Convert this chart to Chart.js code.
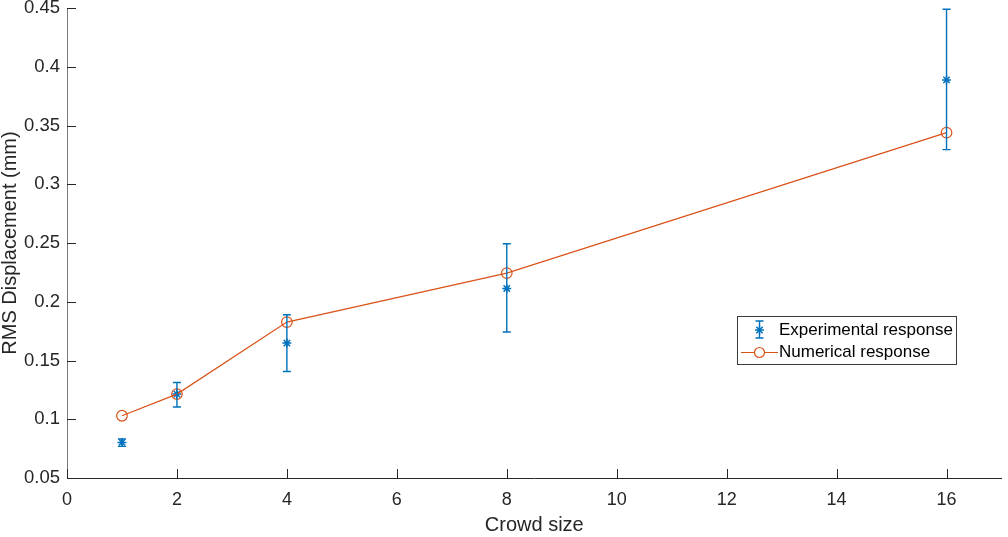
<!DOCTYPE html>
<html>
<head>
<meta charset="utf-8">
<script src="https://cdn.jsdelivr.net/npm/chart.js@4/dist/chart.umd.min.js"></script>
<style>
  html, body { margin: 0; padding: 0; background: #fff; }
</style>
</head>
<body>
<canvas id="grafico" width="1008" height="537"></canvas>
<script>
const crowd_size = [1, 2, 4, 8, 16];

// experimental response (mean and error bar limits)
const exp_media = [0.0803, 0.1214, 0.1648, 0.2113, 0.3888];
const exp_min = [0.0769, 0.1104, 0.1407, 0.1742, 0.3295];
const exp_max = [0.0832, 0.1313, 0.1889, 0.2493, 0.4489];

// numerical response
const num_resposta = [0.1030, 0.1214, 0.1827, 0.2244, 0.3439];

const ticks_x = [0, 2, 4, 6, 8, 10, 12, 14, 16];
const ticks_y = [0.05, 0.1, 0.15, 0.2, 0.25, 0.3, 0.35, 0.4, 0.45];

const azul = '#0072BD';
const laranja = '#D95319';
const cor_eixo = '#262626';

Chart.defaults.font.family = '"Liberation Sans", Arial, Helvetica, sans-serif';
Chart.defaults.color = cor_eixo;

/* barras de erro, ticks para dentro e legenda */
const plugin_extras = {
    id: 'extras',
    afterDatasetsDraw(chart) {
        const ctx = chart.ctx;
        const x = chart.scales.x;
        const y = chart.scales.y;
        const area = chart.chartArea;

        ctx.save();
        ctx.strokeStyle = azul;
        ctx.lineWidth = 1.4;
        for (let i = 0; i < crowd_size.length; i++) {
            const px = x.getPixelForValue(crowd_size[i]);
            const y1 = y.getPixelForValue(exp_min[i]);
            const y2 = y.getPixelForValue(exp_max[i]);
            ctx.beginPath();
            ctx.moveTo(px, y1);
            ctx.lineTo(px, y2);
            ctx.moveTo(px - 4, y1);
            ctx.lineTo(px + 4, y1);
            ctx.moveTo(px - 4, y2);
            ctx.lineTo(px + 4, y2);
            ctx.stroke();
        }

        // ticks para dentro
        ctx.strokeStyle = cor_eixo;
        ctx.lineWidth = 1;
        ctx.beginPath();
        ticks_x.forEach(v => {
            const px = Math.round(x.getPixelForValue(v)) + 0.5;
            ctx.moveTo(px, area.bottom);
            ctx.lineTo(px, area.bottom - 9);
        });
        ticks_y.forEach(v => {
            const py = Math.round(y.getPixelForValue(v)) + 0.5;
            ctx.moveTo(area.left, py);
            ctx.lineTo(area.left + 9, py);
        });
        ctx.stroke();

        // legenda
        const lx = 737.5, ly = 316.5, lw = 219, lh = 48;
        ctx.fillStyle = '#fff';
        ctx.fillRect(lx, ly, lw, lh);
        ctx.strokeStyle = '#3a3a3a';
        ctx.strokeRect(lx, ly, lw, lh);

        const cx = 759.5;
        const r1 = 330, r2 = 352;
        ctx.strokeStyle = azul;
        ctx.lineWidth = 1.4;
        ctx.beginPath();
        ctx.moveTo(cx, r1 - 9); ctx.lineTo(cx, r1 + 8);
        ctx.moveTo(cx - 4, r1 - 9); ctx.lineTo(cx + 4, r1 - 9);
        ctx.moveTo(cx - 4, r1 + 8); ctx.lineTo(cx + 4, r1 + 8);
        ctx.stroke();
        ctx.fillStyle = azul;
        Chart.helpers.drawPoint(ctx, {pointStyle: 'star', radius: 4.5, rotation: 0, borderWidth: 1.5}, cx, r1);

        ctx.strokeStyle = laranja;
        ctx.lineWidth = 1.2;
        ctx.beginPath();
        ctx.moveTo(741, r2 + 0.5); ctx.lineTo(778, r2 + 0.5);
        ctx.stroke();
        ctx.fillStyle = '#fff';
        ctx.beginPath();
        ctx.arc(cx, r2 + 0.5, 5, 0, Math.PI * 2);
        ctx.fill();
        ctx.stroke();

        ctx.fillStyle = '#000';
        ctx.font = '17px "Liberation Sans", Arial, sans-serif';
        ctx.textBaseline = 'middle';
        ctx.textAlign = 'left';
        ctx.fillText('Experimental response', 779, r1);
        ctx.fillText('Numerical response', 779, r2);
        ctx.restore();
    }
};

const data_grafico = {
    datasets: [
        {
            label: 'Experimental response',
            data: crowd_size.map((v, i) => ({x: v, y: exp_media[i]})),
            showLine: false,
            pointStyle: 'star',
            pointRadius: 4.5,
            borderColor: azul,
            backgroundColor: azul,
            borderWidth: 1.5,
            order: 1
        },
        {
            label: 'Numerical response',
            data: crowd_size.map((v, i) => ({x: v, y: num_resposta[i]})),
            showLine: true,
            pointStyle: 'circle',
            pointRadius: 5.3,
            borderColor: laranja,
            backgroundColor: 'rgba(0,0,0,0)',
            borderWidth: 1.2,
            pointBorderWidth: 1.2,
            order: 0
        }
    ]
};

const config_grafico = {
    type: 'scatter',
    data: data_grafico,
    plugins: [plugin_extras],
    options: {
        responsive: false,
        animation: false,
        layout: {
            padding: { top: 8, right: 5, left: 0, bottom: 0 }
        },
        scales: {
            x: {
                type: 'linear',
                min: 0,
                max: 17,
                afterBuildTicks: s => { s.ticks = ticks_x.map(v => ({value: v})); },
                afterFit: s => { s.height = 59; s.paddingLeft = 0; s.paddingRight = 0; },
                grid: { display: false, drawTicks: false },
                border: { display: true, color: cor_eixo, width: 1 },
                ticks: {
                    padding: 11,
                    color: cor_eixo,
                    maxRotation: 0,
                    font: { size: 18 },
                    callback: v => String(v)
                },
                title: {
                    display: true,
                    text: 'Crowd size',
                    color: cor_eixo,
                    font: { size: 20 },
                    padding: { top: 0, bottom: 0 }
                }
            },
            y: {
                type: 'linear',
                min: 0.05,
                max: 0.45,
                afterBuildTicks: s => { s.ticks = ticks_y.map(v => ({value: v})); },
                afterFit: s => { s.width = 67; s.paddingTop = 0; s.paddingBottom = 0; },
                grid: { display: false, drawTicks: false },
                border: { display: true, color: '#7a7a7a', width: 1 },
                ticks: {
                    padding: 7,
                    color: cor_eixo,
                    font: { size: 18.5 },
                    callback: v => String(v)
                },
                title: {
                    display: true,
                    text: 'RMS Displacement (mm)',
                    color: cor_eixo,
                    font: { size: 20 },
                    padding: { top: -2, bottom: 0 }
                }
            }
        },
        plugins: {
            legend: { display: false },
            tooltip: { enabled: false }
        }
    }
};

const grafico = new Chart(document.getElementById('grafico'), config_grafico);
</script>
</body>
</html>
